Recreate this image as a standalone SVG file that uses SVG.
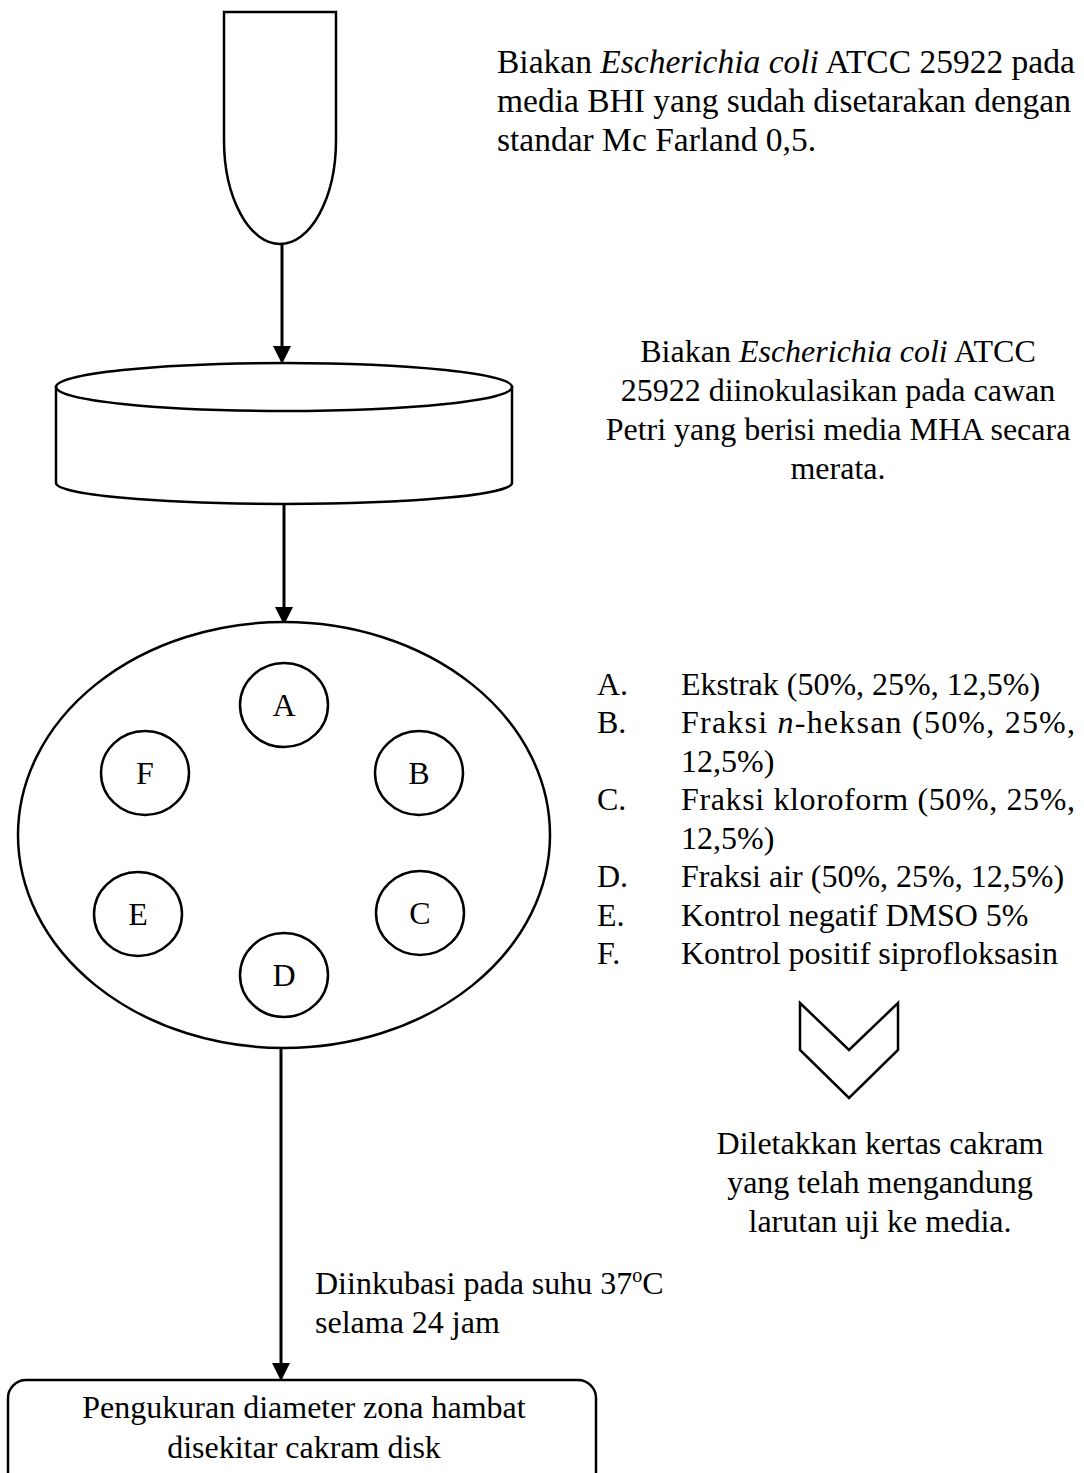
<svg xmlns="http://www.w3.org/2000/svg" width="1084" height="1473" viewBox="0 0 1084 1473">
<style>
.s{fill:#fff;stroke:#000;stroke-width:2.5}
.t{font-family:"Liberation Serif","Times New Roman",serif;font-size:32px;fill:#000}
.big{font-size:33.5px}
.c{text-anchor:middle}
.conn{stroke:#000;stroke-width:3;fill:none}
</style>
<defs>
<marker id="ah" markerWidth="6" markerHeight="6" refX="5" refY="3" orient="auto" markerUnits="strokeWidth">
<path d="M0,0 L6,3 L0,6 Z" fill="#000"/>
</marker>
</defs>
<rect width="1084" height="1473" fill="#fff"/>
<g id="connectors">
<line class="conn" x1="282" y1="245" x2="282" y2="361" marker-end="url(#ah)"/>
<line class="conn" x1="284" y1="505" x2="284" y2="622" marker-end="url(#ah)"/>
<line class="conn" x1="281" y1="1048" x2="281" y2="1378" marker-end="url(#ah)"/>
</g>
<g id="tube">
<path class="s" d="M224,12 H336 V140 A56,104 0 0 1 224,140 Z"/>
</g>
<g id="tube-label">
<text class="t big" x="497" y="73">Biakan <tspan font-style="italic">Escherichia coli</tspan> ATCC 25922 pada</text>
<text class="t big" x="497" y="112">media BHI yang sudah disetarakan dengan</text>
<text class="t big" x="497" y="151">standar Mc Farland 0,5.</text>
</g>
<g id="petri">
<path class="s" d="M56,387 V483 A228,21 0 0 0 512,483 V387 Z"/>
<ellipse class="s" cx="284" cy="387" rx="228" ry="24"/>
</g>
<g id="petri-label">
<text class="t c" x="838" y="362">Biakan <tspan font-style="italic">Escherichia coli</tspan> ATCC</text>
<text class="t c" x="838" y="401">25922 diinokulasikan pada cawan</text>
<text class="t c" x="838" y="440">Petri yang berisi media MHA secara</text>
<text class="t c" x="838" y="479">merata.</text>
</g>
<g id="plate">
<ellipse class="s" cx="284" cy="835" rx="266" ry="213"/>
</g>
<g id="disk-A"><ellipse class="s" cx="284" cy="705" rx="44" ry="42"/><text class="t c" x="284" y="716">A</text></g>
<g id="disk-B"><ellipse class="s" cx="419" cy="773" rx="44" ry="42"/><text class="t c" x="419" y="784">B</text></g>
<g id="disk-C"><ellipse class="s" cx="420" cy="913" rx="44" ry="42"/><text class="t c" x="420" y="924">C</text></g>
<g id="disk-D"><ellipse class="s" cx="284" cy="975" rx="44" ry="42"/><text class="t c" x="284" y="986">D</text></g>
<g id="disk-E"><ellipse class="s" cx="138" cy="914" rx="44" ry="42"/><text class="t c" x="138" y="925">E</text></g>
<g id="disk-F"><ellipse class="s" cx="145" cy="773" rx="44" ry="42"/><text class="t c" x="145" y="784">F</text></g>
<g id="legend">
<text class="t" x="597" y="695">A.</text><text class="t" x="681" y="695">Ekstrak (50%, 25%, 12,5%)</text>
<text class="t" x="597" y="733">B.</text><text class="t" x="681" y="733" textLength="394" lengthAdjust="spacing">Fraksi <tspan font-style="italic">n</tspan>-heksan (50%, 25%,</text>
<text class="t" x="681" y="772">12,5%)</text>
<text class="t" x="597" y="810">C.</text><text class="t" x="681" y="810" textLength="394" lengthAdjust="spacing">Fraksi kloroform (50%, 25%,</text>
<text class="t" x="681" y="849">12,5%)</text>
<text class="t" x="597" y="887">D.</text><text class="t" x="681" y="887">Fraksi air (50%, 25%, 12,5%)</text>
<text class="t" x="597" y="926">E.</text><text class="t" x="681" y="926">Kontrol negatif DMSO 5%</text>
<text class="t" x="597" y="964">F.</text><text class="t" x="681" y="964">Kontrol positif siprofloksasin</text>
</g>
<g id="chevron">
<path class="s" d="M800,1003 L849,1050 L898,1003 L898,1050 L849,1098 L800,1050 Z" stroke-linejoin="miter"/>
</g>
<g id="chevron-label">
<text class="t c" x="880" y="1154">Diletakkan kertas cakram</text>
<text class="t c" x="880" y="1193">yang telah mengandung</text>
<text class="t c" x="880" y="1232">larutan uji ke media.</text>
</g>
<g id="incubate-label">
<text class="t" x="315" y="1294">Diinkubasi pada suhu 37<tspan font-size="20" dy="-12">o</tspan><tspan dy="12">C</tspan></text>
<text class="t" x="315" y="1333">selama 24 jam</text>
</g>
<g id="result">
<rect class="s" x="8" y="1380" width="588" height="110" rx="18"/>
<text class="t c" x="304" y="1418">Pengukuran diameter zona hambat</text>
<text class="t c" x="304" y="1458">disekitar cakram disk</text>
</g>
</svg>
